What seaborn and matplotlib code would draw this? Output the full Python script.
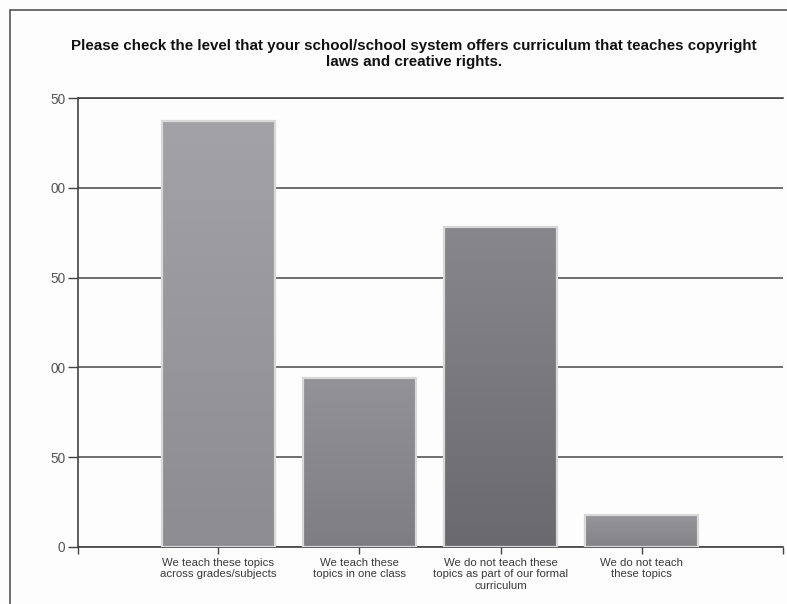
import numpy as np
import pandas as pd
import seaborn as sns
import matplotlib.pyplot as plt
from matplotlib.colors import LinearSegmentedColormap
from matplotlib.patches import Rectangle

# ---- data ----
categories = [
    "We teach these topics across grades/subjects",
    "We teach these topics in one class",
    "We do not teach these topics as part of our formal curriculum",
    "We do not teach these topics",
]
tick_labels = [
    "We teach these topics\nacross grades/subjects",
    "We teach these\ntopics in one class",
    "We do not teach these\ntopics as part of our formal\ncurriculum",
    "We do not teach\nthese topics",
]
counts = [237, 94, 178, 18]
top_colors = ["#a3a3a7", "#939397", "#88888c", "#97979b"]
bottom_colors = ["#8d8d91", "#7e7e82", "#6a6a6e", "#838387"]
ytick_values = [0, 50, 100, 150, 200, 250]
ytick_labels = ["0", "50", "00", "50", "00", "50"]
title = ("Please check the level that your school/school system offers curriculum that teaches copyright\n"
         "laws and creative rights.")

sns.set_theme(style="white")
plt.rcParams['font.family'] = ['Liberation Sans', 'DejaVu Sans']

W, H = 787, 604
fig = plt.figure(figsize=(W / 100, H / 100), dpi=100)
fig.patch.set_facecolor("#fdfdfd")
ax = fig.add_axes([78 / W, 1 - 547 / H, (783 - 78) / W, (547 - 98) / H])
ax.set_facecolor("#fdfdfd")

df = pd.DataFrame({"cat": categories, "n": counts})
sns.barplot(data=df, x="cat", y="n", hue="cat", palette=bottom_colors, legend=False,
            width=0.8, ax=ax, edgecolor="#d8d8d8", linewidth=1.6)

grad = np.linspace(0, 1, 256).reshape(-1, 1)
for patch, tc, bc in zip(ax.patches, top_colors, bottom_colors):
    x0, y0 = patch.get_x(), patch.get_y()
    w, h = patch.get_width(), patch.get_height()
    cmap = LinearSegmentedColormap.from_list("g", [bc, tc])
    im = ax.imshow(grad, extent=[x0, x0 + w, y0, y0 + h], origin="lower",
                   cmap=cmap, aspect="auto", zorder=2.5, interpolation="bilinear")
    im.set_clip_path(patch)
    patch.set_facecolor("none")
    patch.set_zorder(3)

ax.set_xlim(-0.993, 4.0)
ax.set_ylim(0, 250)
ax.set_xticks(range(len(categories)))
ax.set_xticklabels(tick_labels, fontsize=8.2, color="#3a3a3a", linespacing=1.15)
ax.set_xticks([-0.993, 4.0], minor=True)
ax.set_yticks(ytick_values)
ax.set_yticklabels(ytick_labels, fontsize=9.8, color="#555555")
ax.set_xlabel("")
ax.set_ylabel("")

ax.tick_params(axis="y", which="major", left=True, length=7, width=1, color="#444444", pad=2)
ax.tick_params(axis="x", which="both", bottom=True, length=5, width=1, color="#444444", pad=3)

ax.set_axisbelow(True)
ax.yaxis.grid(True, color="#555555", linewidth=1.2)
ax.xaxis.grid(False)
for side in ["left", "bottom", "top"]:
    ax.spines[side].set_visible(True)
    ax.spines[side].set_color("#444444")
    ax.spines[side].set_linewidth(1.2)
ax.spines["right"].set_visible(False)

fig.text(414 / W, 1 - 39 / H, title, ha="center", va="top", fontsize=10.9,
         fontweight="bold", color="#111111", linespacing=1.22)

fig.add_artist(Rectangle((10 / W, -0.2), 1.5, 1.2 - 10 / H, transform=fig.transFigure,
                         fill=False, edgecolor="#555555", linewidth=1.2))

fig.savefig("out.png", dpi=100, facecolor=fig.get_facecolor())
